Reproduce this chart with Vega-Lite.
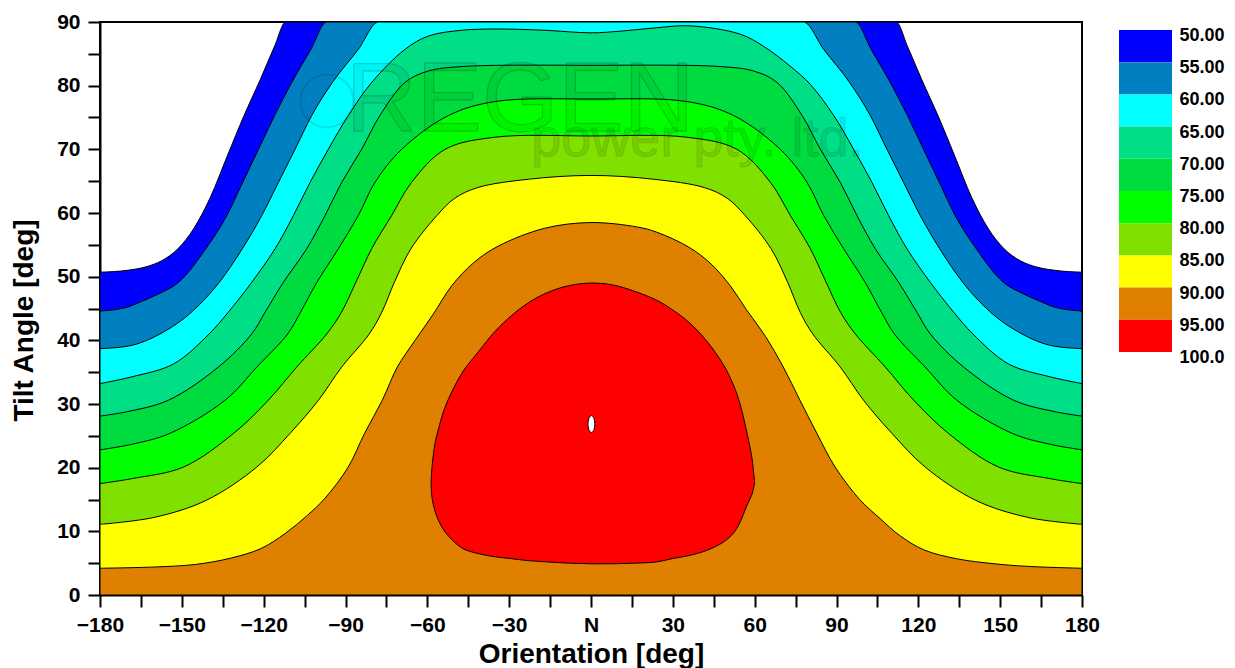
{
  "$schema": "https://vega.github.io/schema/vega-lite/v6.json",
  "autosize": {"type": "none"},
  "padding": {"left": 100, "top": 22, "right": 1135, "bottom": 646},
  "background": "white",
  "config": {"font": "Liberation Sans"},
  "spacing": 37,
  "bounds": "flush",
  "hconcat": [
    {
      "width": 982,
      "height": 573,
      "view": {"stroke": "black", "strokeWidth": 2},
      "data": {"values": [
        {"lvl":50,"o":-180,"t":50.7},{"lvl":50,"o":-170,"t":51.0},{"lvl":50,"o":-163.5,"t":51.5},{"lvl":50,"o":-157.4,"t":52.5},{"lvl":50,"o":-151.4,"t":54.4},{"lvl":50,"o":-145.7,"t":57.5},{"lvl":50,"o":-139.5,"t":62.5},{"lvl":50,"o":-133.3,"t":69.0},{"lvl":50,"o":-127.2,"t":75.3},{"lvl":50,"o":-121.2,"t":81.0},{"lvl":50,"o":-116,"t":86.2},{"lvl":50,"o":-111.9,"t":90},{"lvl":50,"o":0,"t":90},{"lvl":50,"o":111.9,"t":90},{"lvl":50,"o":116,"t":86.2},{"lvl":50,"o":121.2,"t":81.0},{"lvl":50,"o":127.2,"t":75.3},{"lvl":50,"o":133.3,"t":69.0},{"lvl":50,"o":139.5,"t":62.5},{"lvl":50,"o":145.7,"t":57.5},{"lvl":50,"o":151.4,"t":54.4},{"lvl":50,"o":157.4,"t":52.5},{"lvl":50,"o":163.5,"t":51.5},{"lvl":50,"o":170,"t":51.0},{"lvl":50,"o":180,"t":50.7},

        {"lvl":55,"o":-180,"t":44.6},{"lvl":55,"o":-170,"t":45.2},{"lvl":55,"o":-165.9,"t":45.9},{"lvl":55,"o":-158.5,"t":47.3},{"lvl":55,"o":-151.2,"t":49.1},{"lvl":55,"o":-141.2,"t":54.4},{"lvl":55,"o":-133.5,"t":59.6},{"lvl":55,"o":-127.7,"t":64.8},{"lvl":55,"o":-121.9,"t":70.0},{"lvl":55,"o":-116,"t":75.3},{"lvl":55,"o":-109.7,"t":80.5},{"lvl":55,"o":-102.7,"t":85.7},{"lvl":55,"o":-96.9,"t":90},{"lvl":55,"o":0,"t":90},{"lvl":55,"o":96.9,"t":90},{"lvl":55,"o":102.7,"t":85.7},{"lvl":55,"o":109.7,"t":80.5},{"lvl":55,"o":116,"t":75.3},{"lvl":55,"o":121.9,"t":70.0},{"lvl":55,"o":127.7,"t":64.8},{"lvl":55,"o":133.5,"t":59.6},{"lvl":55,"o":141.2,"t":54.4},{"lvl":55,"o":151.2,"t":49.1},{"lvl":55,"o":158.5,"t":47.3},{"lvl":55,"o":165.9,"t":45.9},{"lvl":55,"o":170,"t":45.2},{"lvl":55,"o":180,"t":44.6},

        {"lvl":60,"o":-180,"t":38.7},{"lvl":60,"o":-169.6,"t":39.1},{"lvl":60,"o":-158,"t":41.0},{"lvl":60,"o":-146,"t":44.6},{"lvl":60,"o":-136.3,"t":49.1},{"lvl":60,"o":-127.8,"t":54.4},{"lvl":60,"o":-120.7,"t":59.6},{"lvl":60,"o":-114.6,"t":64.8},{"lvl":60,"o":-108.5,"t":70.0},{"lvl":60,"o":-102.4,"t":75.3},{"lvl":60,"o":-94.8,"t":80.5},{"lvl":60,"o":-85.3,"t":85.7},{"lvl":60,"o":-77.9,"t":90},{"lvl":60,"o":0,"t":90},{"lvl":60,"o":77.9,"t":90},{"lvl":60,"o":85.3,"t":85.7},{"lvl":60,"o":94.8,"t":80.5},{"lvl":60,"o":102.4,"t":75.3},{"lvl":60,"o":108.5,"t":70.0},{"lvl":60,"o":114.6,"t":64.8},{"lvl":60,"o":120.7,"t":59.6},{"lvl":60,"o":127.8,"t":54.4},{"lvl":60,"o":136.3,"t":49.1},{"lvl":60,"o":146,"t":44.6},{"lvl":60,"o":158,"t":41.0},{"lvl":60,"o":169.6,"t":39.1},{"lvl":60,"o":180,"t":38.7},

        {"lvl":65,"o":-180,"t":33.2},{"lvl":65,"o":-168,"t":34.3},{"lvl":65,"o":-153,"t":36.3},{"lvl":65,"o":-140,"t":41.0},{"lvl":65,"o":-133,"t":44.4},{"lvl":65,"o":-124.4,"t":49.1},{"lvl":65,"o":-115.8,"t":54.4},{"lvl":65,"o":-109.1,"t":59.6},{"lvl":65,"o":-103,"t":64.8},{"lvl":65,"o":-96.3,"t":70.0},{"lvl":65,"o":-89,"t":75.3},{"lvl":65,"o":-80.4,"t":80.5},{"lvl":65,"o":-68.2,"t":85.7},{"lvl":65,"o":-59.6,"t":87.8},{"lvl":65,"o":-47.4,"t":88.7},{"lvl":65,"o":-35.2,"t":88.9},{"lvl":65,"o":-16.9,"t":88.7},{"lvl":65,"o":0,"t":88.3},{"lvl":65,"o":11.8,"t":88.6},{"lvl":65,"o":24.1,"t":89.1},{"lvl":65,"o":36.3,"t":89.4},{"lvl":65,"o":54.6,"t":88.1},{"lvl":65,"o":63.2,"t":86.2},{"lvl":65,"o":72.9,"t":83.1},{"lvl":65,"o":80.4,"t":80.2},{"lvl":65,"o":89,"t":75.3},{"lvl":65,"o":96.3,"t":70.0},{"lvl":65,"o":103,"t":64.8},{"lvl":65,"o":109.1,"t":59.6},{"lvl":65,"o":115.8,"t":54.4},{"lvl":65,"o":124.4,"t":49.1},{"lvl":65,"o":133,"t":44.4},{"lvl":65,"o":140,"t":41.0},{"lvl":65,"o":153,"t":36.3},{"lvl":65,"o":168,"t":34.3},{"lvl":65,"o":180,"t":33.2},

        {"lvl":70,"o":-180,"t":28.1},{"lvl":70,"o":-170,"t":28.8},{"lvl":70,"o":-154.9,"t":30.6},{"lvl":70,"o":-136.6,"t":35.8},{"lvl":70,"o":-124.4,"t":41.0},{"lvl":70,"o":-119.5,"t":44.4},{"lvl":70,"o":-112.8,"t":49.1},{"lvl":70,"o":-104.2,"t":54.4},{"lvl":70,"o":-97.5,"t":59.6},{"lvl":70,"o":-91.4,"t":64.8},{"lvl":70,"o":-84.1,"t":70.0},{"lvl":70,"o":-77.4,"t":75.3},{"lvl":70,"o":-68.2,"t":80.5},{"lvl":70,"o":-59.6,"t":82.3},{"lvl":70,"o":-47.4,"t":83.0},{"lvl":70,"o":0,"t":83.2},{"lvl":70,"o":47.4,"t":83.0},{"lvl":70,"o":59.6,"t":82.3},{"lvl":70,"o":68.2,"t":80.5},{"lvl":70,"o":77.4,"t":75.3},{"lvl":70,"o":84.1,"t":70.0},{"lvl":70,"o":91.4,"t":64.8},{"lvl":70,"o":97.5,"t":59.6},{"lvl":70,"o":104.2,"t":54.4},{"lvl":70,"o":112.8,"t":49.1},{"lvl":70,"o":119.5,"t":44.4},{"lvl":70,"o":124.4,"t":41.0},{"lvl":70,"o":136.6,"t":35.8},{"lvl":70,"o":154.9,"t":30.6},{"lvl":70,"o":170,"t":28.8},{"lvl":70,"o":180,"t":28.1},

        {"lvl":75,"o":-180,"t":22.8},{"lvl":75,"o":-168,"t":23.7},{"lvl":75,"o":-154.3,"t":25.4},{"lvl":75,"o":-134.1,"t":30.6},{"lvl":75,"o":-122.5,"t":35.8},{"lvl":75,"o":-111.2,"t":41.0},{"lvl":75,"o":-106.5,"t":44.4},{"lvl":75,"o":-100.5,"t":49.1},{"lvl":75,"o":-92.6,"t":54.4},{"lvl":75,"o":-85.3,"t":59.6},{"lvl":75,"o":-79.2,"t":64.8},{"lvl":75,"o":-69.4,"t":70.0},{"lvl":75,"o":-52.3,"t":75.3},{"lvl":75,"o":-35.2,"t":77.5},{"lvl":75,"o":0,"t":77.9},{"lvl":75,"o":35.2,"t":77.5},{"lvl":75,"o":52.3,"t":75.3},{"lvl":75,"o":69.4,"t":70.0},{"lvl":75,"o":79.2,"t":64.8},{"lvl":75,"o":85.3,"t":59.6},{"lvl":75,"o":92.6,"t":54.4},{"lvl":75,"o":100.5,"t":49.1},{"lvl":75,"o":106.5,"t":44.4},{"lvl":75,"o":111.2,"t":41.0},{"lvl":75,"o":122.5,"t":35.8},{"lvl":75,"o":134.1,"t":30.6},{"lvl":75,"o":154.3,"t":25.4},{"lvl":75,"o":168,"t":23.7},{"lvl":75,"o":180,"t":22.8},

        {"lvl":80,"o":-180,"t":17.5},{"lvl":80,"o":-168,"t":18.3},{"lvl":80,"o":-149.4,"t":20.1},{"lvl":80,"o":-131,"t":25.4},{"lvl":80,"o":-118.3,"t":30.6},{"lvl":80,"o":-107.9,"t":35.8},{"lvl":80,"o":-96.9,"t":41.0},{"lvl":80,"o":-91.5,"t":44.4},{"lvl":80,"o":-86,"t":49.3},{"lvl":80,"o":-80.4,"t":54.4},{"lvl":80,"o":-73.1,"t":59.6},{"lvl":80,"o":-65.8,"t":64.8},{"lvl":80,"o":-53.5,"t":70.0},{"lvl":80,"o":-35.2,"t":71.9},{"lvl":80,"o":0,"t":72.1},{"lvl":80,"o":35.2,"t":71.9},{"lvl":80,"o":53.5,"t":70.0},{"lvl":80,"o":65.8,"t":64.8},{"lvl":80,"o":73.1,"t":59.6},{"lvl":80,"o":80.4,"t":54.4},{"lvl":80,"o":86,"t":49.3},{"lvl":80,"o":91.5,"t":44.4},{"lvl":80,"o":96.9,"t":41.0},{"lvl":80,"o":107.9,"t":35.8},{"lvl":80,"o":118.3,"t":30.6},{"lvl":80,"o":131,"t":25.4},{"lvl":80,"o":149.4,"t":20.1},{"lvl":80,"o":168,"t":18.3},{"lvl":80,"o":180,"t":17.5},

        {"lvl":85,"o":-180,"t":11.1},{"lvl":85,"o":-160,"t":12.2},{"lvl":85,"o":-140.9,"t":14.9},{"lvl":85,"o":-122.5,"t":20.1},{"lvl":85,"o":-110.3,"t":25.4},{"lvl":85,"o":-99.9,"t":30.6},{"lvl":85,"o":-91.4,"t":35.8},{"lvl":85,"o":-81.3,"t":41.0},{"lvl":85,"o":-76.7,"t":44.4},{"lvl":85,"o":-72.1,"t":49.1},{"lvl":85,"o":-66,"t":54.4},{"lvl":85,"o":-56.5,"t":59.6},{"lvl":85,"o":-50,"t":62.3},{"lvl":85,"o":-41.5,"t":64.0},{"lvl":85,"o":-23,"t":65.3},{"lvl":85,"o":0,"t":65.9},{"lvl":85,"o":23,"t":65.3},{"lvl":85,"o":41.5,"t":64.0},{"lvl":85,"o":50,"t":62.3},{"lvl":85,"o":56.5,"t":59.6},{"lvl":85,"o":66,"t":54.4},{"lvl":85,"o":72.1,"t":49.1},{"lvl":85,"o":76.7,"t":44.4},{"lvl":85,"o":81.3,"t":41.0},{"lvl":85,"o":91.4,"t":35.8},{"lvl":85,"o":99.9,"t":30.6},{"lvl":85,"o":110.3,"t":25.4},{"lvl":85,"o":122.5,"t":20.1},{"lvl":85,"o":140.9,"t":14.9},{"lvl":85,"o":160,"t":12.2},{"lvl":85,"o":180,"t":11.1},

        {"lvl":90,"o":-180,"t":4.2},{"lvl":90,"o":-160,"t":4.4},{"lvl":90,"o":-145,"t":4.8},{"lvl":90,"o":-132,"t":5.8},{"lvl":90,"o":-121,"t":7.3},{"lvl":90,"o":-112,"t":9.7},{"lvl":90,"o":-104,"t":12.5},{"lvl":90,"o":-97.5,"t":15.2},{"lvl":90,"o":-89,"t":20.1},{"lvl":90,"o":-83,"t":25.4},{"lvl":90,"o":-76.5,"t":30.6},{"lvl":90,"o":-71,"t":35.8},{"lvl":90,"o":-64.5,"t":40.0},{"lvl":90,"o":-58,"t":44.0},{"lvl":90,"o":-51,"t":48.6},{"lvl":90,"o":-43,"t":52.2},{"lvl":90,"o":-34,"t":54.8},{"lvl":90,"o":-17,"t":57.6},{"lvl":90,"o":0,"t":58.5},{"lvl":90,"o":17,"t":57.8},{"lvl":90,"o":24,"t":57.0},{"lvl":90,"o":36,"t":54.6},{"lvl":90,"o":44,"t":52.0},{"lvl":90,"o":51,"t":48.6},{"lvl":90,"o":57,"t":44.8},{"lvl":90,"o":64,"t":40.6},{"lvl":90,"o":70.5,"t":35.8},{"lvl":90,"o":76.6,"t":30.6},{"lvl":90,"o":82.8,"t":25.4},{"lvl":90,"o":89.5,"t":20.1},{"lvl":90,"o":98.5,"t":15.0},{"lvl":90,"o":106,"t":12.0},{"lvl":90,"o":113,"t":9.4},{"lvl":90,"o":122,"t":7.1},{"lvl":90,"o":134,"t":5.7},{"lvl":90,"o":148,"t":4.9},{"lvl":90,"o":160,"t":4.5},{"lvl":90,"o":180,"t":4.2},

        {"lvl":95,"o":-58.6,"t":18.0,"b":17.0},{"lvl":95,"o":-58.2,"t":20.5,"b":15.0},{"lvl":95,"o":-57.2,"t":23.8,"b":13.2},{"lvl":95,"o":-56.2,"t":25.6,"b":12.0},{"lvl":95,"o":-53.5,"t":29.5,"b":9.9},{"lvl":95,"o":-47.4,"t":34.8,"b":7.4},{"lvl":95,"o":-41.3,"t":38.2,"b":6.5},{"lvl":95,"o":-35.2,"t":41.4,"b":6.0},{"lvl":95,"o":-29.1,"t":43.9,"b":5.7},{"lvl":95,"o":-23,"t":45.9,"b":5.4},{"lvl":95,"o":-16,"t":47.5,"b":5.2},{"lvl":95,"o":-8,"t":48.6,"b":5.0},{"lvl":95,"o":0,"t":49.0,"b":4.9},{"lvl":95,"o":8,"t":48.7,"b":4.9},{"lvl":95,"o":16,"t":47.7,"b":5.0},{"lvl":95,"o":24.1,"t":46.3,"b":5.2},{"lvl":95,"o":30.2,"t":44.7,"b":5.75},{"lvl":95,"o":36,"t":42.8,"b":6.2},{"lvl":95,"o":42.4,"t":39.9,"b":7.0},{"lvl":95,"o":48.5,"t":36.2,"b":8.3},{"lvl":95,"o":52.2,"t":33.0,"b":9.7},{"lvl":95,"o":54.5,"t":30.2,"b":11.3},{"lvl":95,"o":57.1,"t":25.6,"b":14.0},{"lvl":95,"o":59,"t":21.5,"b":15.8},{"lvl":95,"o":59.8,"t":18.5,"b":17.2},{"lvl":95,"o":60,"t":17.8,"b":17.8},

        {"lvl":100,"o":-1.1,"t":26.85,"b":26.85},{"lvl":100,"o":-0.8,"t":27.7,"b":26.0},{"lvl":100,"o":0.15,"t":28.2,"b":25.5},{"lvl":100,"o":1.1,"t":27.7,"b":26.0},{"lvl":100,"o":1.4,"t":26.85,"b":26.85}
      ]},
      "encoding": {
        "x": {
          "field": "o", "type": "quantitative",
          "scale": {"domain": [-180, 180], "nice": false, "zero": false},
          "axis": {
            "title": "Orientation [deg]",
            "values": [-180,-165,-150,-135,-120,-105,-90,-75,-60,-45,-30,-15,0,15,30,45,60,75,90,105,120,135,150,165,180],
            "labelExpr": "datum.value % 30 !== 0 ? '' : (datum.value === 0 ? 'N' : datum.label)",
            "grid": false,
            "tickSize": 12, "tickWidth": 2, "tickColor": "black",
            "domainColor": "black", "domainWidth": 2,
            "labelFont": "Liberation Sans", "labelFontSize": 21, "labelFontWeight": "bold", "labelColor": "black",
            "labelPadding": 7, "labelOverlap": false, "labelFlush": false,
            "titleFont": "Liberation Sans", "titleFontSize": 28, "titleFontWeight": "bold", "titleColor": "black",
            "titleY": 67, "titleBaseline": "alphabetic",
            "encode": {"ticks": {"update": {"y2": {"signal": "datum.value % 30 === 0 ? 12 : 7"}}}}
          }
        },
        "y": {
          "field": "t", "type": "quantitative", "stack": null,
          "scale": {"domain": [0, 90], "nice": false},
          "axis": {
            "title": "Tilt Angle [deg]",
            "values": [0,5,10,15,20,25,30,35,40,45,50,55,60,65,70,75,80,85,90],
            "labelExpr": "datum.value % 10 === 0 ? datum.label : ''",
            "grid": false,
            "tickSize": 12, "tickWidth": 2, "tickColor": "black",
            "domainColor": "black", "domainWidth": 2,
            "labelFont": "Liberation Sans", "labelFontSize": 21, "labelFontWeight": "bold", "labelColor": "black",
            "labelPadding": 8, "labelOverlap": false, "labelFlush": false,
            "titleFont": "Liberation Sans", "titleFontSize": 28, "titleFontWeight": "bold", "titleColor": "black",
            "titleX": -68, "titleY": 298, "titleBaseline": "alphabetic", "titleAngle": -90,
            "encode": {"ticks": {"update": {"x2": {"signal": "datum.value % 10 === 0 ? -12 : -7"}}}}
          }
        },
        "fill": {
          "field": "lvl", "type": "quantitative",
          "scale": {
            "type": "threshold",
            "domain": [55, 60, 65, 70, 75, 80, 85, 90, 95, 100],
            "range": ["#0000FF", "#0080C0", "#00FFFF", "#00DF85", "#00DC3F", "#00FF00", "#80E000", "#FFFF00", "#E08000", "#FF0000", "#FFFFFF"]
          },
          "legend": null
        }
      },
      "layer": [
        {"transform": [{"filter": "datum.lvl === 50"}], "mark": {"type": "area", "interpolate": "monotone", "clip": true, "stroke": "black", "strokeWidth": 1}},
        {"transform": [{"filter": "datum.lvl === 55"}], "mark": {"type": "area", "interpolate": "monotone", "clip": true, "stroke": "black", "strokeWidth": 1}},
        {"transform": [{"filter": "datum.lvl === 60"}], "mark": {"type": "area", "interpolate": "monotone", "clip": true, "stroke": "black", "strokeWidth": 1}},
        {"transform": [{"filter": "datum.lvl === 65"}], "mark": {"type": "area", "interpolate": "catmull-rom", "clip": true, "stroke": "black", "strokeWidth": 1}},
        {"transform": [{"filter": "datum.lvl === 70"}], "mark": {"type": "area", "interpolate": "catmull-rom", "clip": true, "stroke": "black", "strokeWidth": 1}},
        {"transform": [{"filter": "datum.lvl === 75"}], "mark": {"type": "area", "interpolate": "catmull-rom", "clip": true, "stroke": "black", "strokeWidth": 1}},
        {"transform": [{"filter": "datum.lvl === 80"}], "mark": {"type": "area", "interpolate": "catmull-rom", "clip": true, "stroke": "black", "strokeWidth": 1}},
        {"transform": [{"filter": "datum.lvl === 85"}], "mark": {"type": "area", "interpolate": "catmull-rom", "clip": true, "stroke": "black", "strokeWidth": 1}},
        {"transform": [{"filter": "datum.lvl === 90"}], "mark": {"type": "area", "interpolate": "catmull-rom", "clip": true, "stroke": "black", "strokeWidth": 1}},
        {"transform": [{"filter": "datum.lvl === 95"}], "mark": {"type": "area", "interpolate": "catmull-rom", "clip": true, "stroke": "black", "strokeWidth": 1}, "encoding": {"y2": {"field": "b"}}},
        {"transform": [{"filter": "datum.lvl === 100"}], "mark": {"type": "area", "interpolate": "catmull-rom", "clip": true, "stroke": "black", "strokeWidth": 1}, "encoding": {"y2": {"field": "b"}}},
        {
          "data": {"values": [{"o": -96.8, "t": 77.6}]},
          "mark": {"type": "point", "shape": "circle", "size": 2800, "filled": false, "stroke": "black", "strokeOpacity": 0.15, "strokeWidth": 2},
          "encoding": {"fill": {"value": "transparent"}}
        },
        {
          "data": {"values": [{"o": -26, "t": 72.9, "txt": "REGEN"}]},
          "mark": {"type": "text", "font": "Liberation Sans", "fontSize": 98, "align": "center", "baseline": "alphabetic", "fillOpacity": 0.05, "stroke": "black", "strokeOpacity": 0.17, "strokeWidth": 1.3},
          "encoding": {"text": {"field": "txt"}, "fill": {"value": "black"}}
        },
        {
          "data": {"values": [{"o": 39, "t": 69.0, "txt": "power pty. ltd."}]},
          "mark": {"type": "text", "font": "Liberation Sans", "fontSize": 54, "align": "center", "baseline": "alphabetic", "fillOpacity": 0.08, "stroke": "black", "strokeOpacity": 0.12, "strokeWidth": 1},
          "encoding": {"text": {"field": "txt"}, "fill": {"value": "black"}}
        }
      ]
    },
    {
      "width": 53,
      "height": 330,
      "view": {"stroke": null},
      "data": {"values": [
        {"lvl": 50, "hi": 55, "lab": "50.00"},
        {"lvl": 55, "hi": 60, "lab": "55.00"},
        {"lvl": 60, "hi": 65, "lab": "60.00"},
        {"lvl": 65, "hi": 70, "lab": "65.00"},
        {"lvl": 70, "hi": 75, "lab": "70.00"},
        {"lvl": 75, "hi": 80, "lab": "75.00"},
        {"lvl": 80, "hi": 85, "lab": "80.00"},
        {"lvl": 85, "hi": 90, "lab": "85.00"},
        {"lvl": 90, "hi": 95, "lab": "90.00"},
        {"lvl": 95, "hi": 100, "lab": "95.00"},
        {"lvl": 100, "hi": 100, "lab": "100.0"}
      ]},
      "encoding": {
        "y": {"field": "lvl", "type": "quantitative", "scale": {"domain": [48.757, 100], "nice": false, "zero": false, "reverse": true}, "axis": null}
      },
      "layer": [
        {
          "transform": [{"filter": "datum.lvl < 100"}],
          "mark": {"type": "rect", "strokeWidth": 0},
          "encoding": {
            "y2": {"field": "hi"},
            "fill": {
              "field": "lvl", "type": "quantitative",
              "scale": {
                "type": "threshold",
                "domain": [55, 60, 65, 70, 75, 80, 85, 90, 95, 100],
                "range": ["#0000FF", "#0080C0", "#00FFFF", "#00DF85", "#00DC3F", "#00FF00", "#80E000", "#FFFF00", "#E08000", "#FF0000", "#FFFFFF"]
              },
              "legend": null
            }
          }
        },
        {
          "mark": {"type": "text", "align": "left", "baseline": "alphabetic", "dx": 34, "dy": 11, "font": "Liberation Sans", "fontSize": 18, "fontWeight": "bold", "fill": "black"},
          "encoding": {"text": {"field": "lab"}}
        }
      ]
    }
  ]
}
